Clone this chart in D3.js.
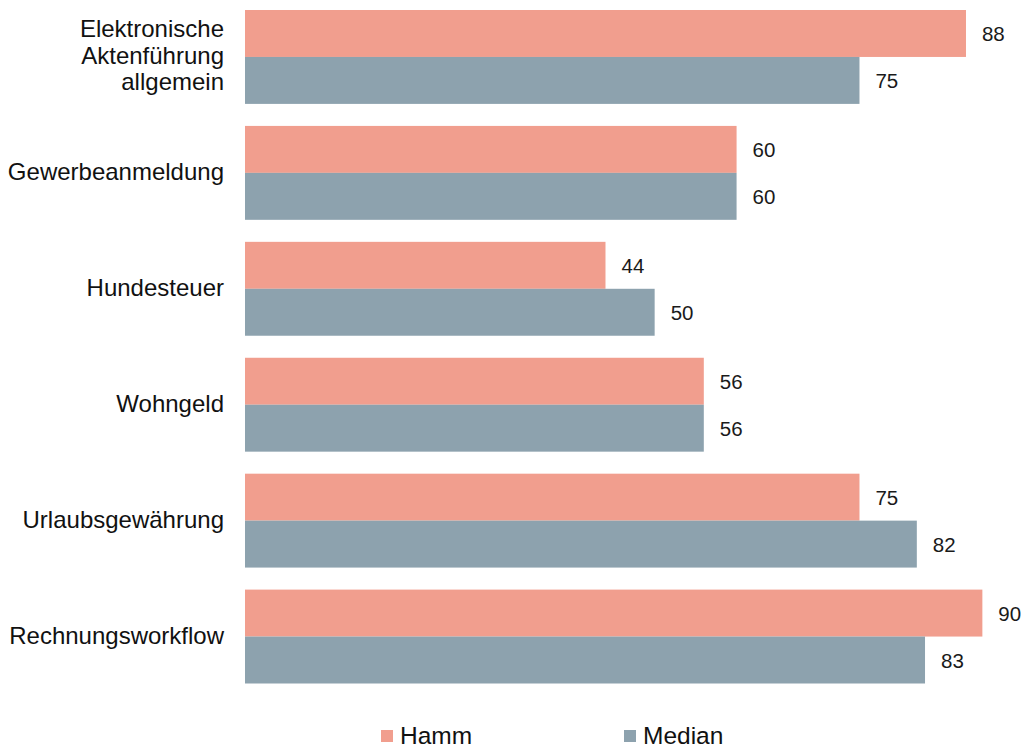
<!DOCTYPE html>
<html>
<head>
<meta charset="utf-8">
<script src="https://cdn.jsdelivr.net/npm/d3@7"></script>
<style>
  html, body { margin: 0; padding: 0; background: #fff; }
  svg { display: block; font-family: "Liberation Sans", Arial, sans-serif; }
</style>
</head>
<body>
<svg id="chart" width="1025" height="749"></svg>
<script>
// Kategorien (mehrzeilige Beschriftungen als Zeilenlisten)
const categories = [
  ["Elektronische", "Aktenführung", "allgemein"],
  ["Gewerbeanmeldung"],
  ["Hundesteuer"],
  ["Wohngeld"],
  ["Urlaubsgewährung"],
  ["Rechnungsworkflow"]
];
const seriesNames = ["Hamm", "Median"];
const hammValues = [88, 60, 44, 56, 75, 90];
const medianValues = [75, 60, 50, 56, 82, 83];
const seriesColors = ["#f19e8e", "#8da2ae"];

const svg = d3.select("#chart");

// Wertachse (ohne sichtbare Achse)
const x = d3.scaleLinear().domain([0, 100]).range([245, 245 + 819.3]);

// Kategorienband: 6 Gruppen, Innenabstand zwischen den Gruppen
const yb = d3.scaleBand()
  .domain(d3.range(categories.length))
  .range([10, 10 + 115.9 * 5 + 94])
  .paddingInner(0.19)
  .paddingOuter(0);

// Unterband für die beiden Reihen je Gruppe
const sub = d3.scaleBand().domain([0, 1]).range([0, yb.bandwidth()]);

const rows = categories.map((c, i) => ({ i, label: c, vals: [hammValues[i], medianValues[i]] }));

const g = svg.selectAll("g.group").data(rows).join("g")
  .attr("class", "group")
  .attr("transform", d => `translate(0,${yb(d.i)})`);

g.selectAll("rect").data(d => d.vals.map((v, k) => ({ v, k }))).join("rect")
  .attr("x", x(0))
  .attr("y", d => sub(d.k))
  .attr("width", d => x(d.v) - x(0))
  .attr("height", sub.bandwidth())
  .attr("fill", d => seriesColors[d.k]);

// Wertbeschriftungen rechts neben den Balken
g.selectAll("text.val").data(d => d.vals.map((v, k) => ({ v, k }))).join("text")
  .attr("class", "val")
  .attr("x", d => x(d.v) + 16)
  .attr("y", d => sub(d.k) + sub.bandwidth() / 2)
  .attr("dy", "0.37em")
  .attr("font-size", 20.5)
  .attr("fill", "#1a1a1a")
  .text(d => d.v);

// Kategorienbeschriftung
const lineH = 26.5;
g.append("text")
  .attr("text-anchor", "end")
  .attr("font-size", 24)
  .attr("fill", "#111")
  .each(function(d) {
    const n = d.label.length;
    const t = d3.select(this);
    d.label.forEach((line, j) => {
      t.append("tspan")
        .attr("x", 224)
        .attr("y", yb.bandwidth() / 2 + (j - (n - 1) / 2) * lineH)
        .attr("dy", "0.29em")
        .text(line);
    });
  });

// Legende
const legendX = [381, 624];
const lg = svg.selectAll("g.legend").data(seriesNames).join("g")
  .attr("class", "legend")
  .attr("transform", (d, i) => `translate(${legendX[i]},730)`);
lg.append("rect").attr("width", 12).attr("height", 12)
  .attr("fill", (d, i) => seriesColors[i]);
lg.append("text")
  .attr("x", 19).attr("y", 13.5)
  .attr("font-size", 24.5)
  .attr("fill", "#111")
  .text(d => d);
</script>
</body>
</html>
